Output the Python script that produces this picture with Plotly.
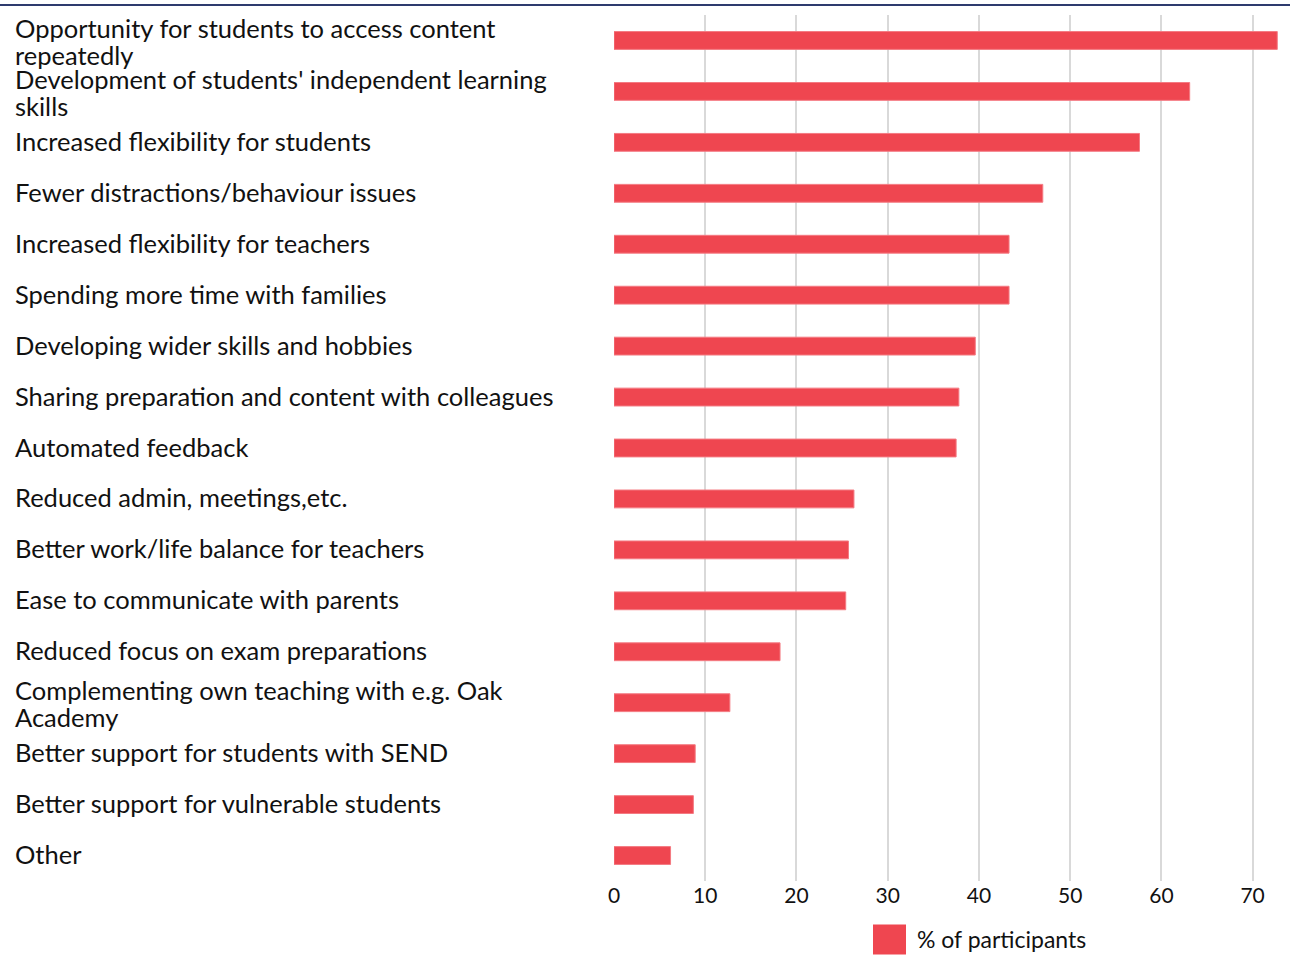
import plotly.graph_objects as go

# Survey responses: perceived benefits of remote teaching
categories = [
    "Opportunity for students to access content<br>repeatedly",
    "Development of students' independent learning<br>skills",
    "Increased flexibility for students",
    "Fewer distractions/behaviour issues",
    "Increased flexibility for teachers",
    "Spending more time with families",
    "Developing wider skills and hobbies",
    "Sharing preparation and content with colleagues",
    "Automated feedback",
    "Reduced admin, meetings,etc.",
    "Better work/life balance for teachers",
    "Ease to communicate with parents",
    "Reduced focus on exam preparations",
    "Complementing own teaching with e.g. Oak<br>Academy",
    "Better support for students with SEND",
    "Better support for vulnerable students",
    "Other",
]
values = [72.7, 63.1, 57.6, 47.0, 43.3, 43.3, 39.6, 37.8, 37.5,
          26.3, 25.7, 25.4, 18.2, 12.7, 8.9, 8.7, 6.2]
tick_values = [0, 10, 20, 30, 40, 50, 60, 70]
series_name = "% of participants"

BAR_COLOR = "#ef4650"
FONT = "Lato"
TEXT_COLOR = "#111111"

W, H = 1290, 956
L, R, T, B = 614, 10, 14.5, 74.5
pw, ph = W - L - R, H - T - B
n = len(categories)
row_px = ph / n


def px_x(p):
    return (p - L) / pw


def px_y(p):
    return (H - B - p) / ph


fig = go.Figure()
fig.add_trace(go.Bar(
    y=list(range(n)),
    x=values,
    orientation="h",
    name=series_name,
    marker=dict(color=BAR_COLOR, line=dict(color="#f47a82", width=1)),
    width=0.35,
    showlegend=False,
    hovertext=[c.replace("<br>", " ") for c in categories],
))

# left-aligned category labels; wrapped labels use a tight 27 px line step
single_shift = -1.5 / row_px
wrap_offsets = (-12.5 / row_px, 14.5 / row_px)
for i, cat in enumerate(categories):
    lines = cat.split("<br>")
    offsets = [single_shift] if len(lines) == 1 else wrap_offsets
    for line, off in zip(lines, offsets):
        fig.add_annotation(
            x=px_x(13), xref="paper", xanchor="left",
            y=i + off, yref="y", yanchor="middle",
            text=line, showarrow=False, align="left",
            font=dict(family=FONT, size=25.5, color=TEXT_COLOR),
        )

# thin rule across the top
fig.add_shape(type="line", xref="paper", yref="paper",
              x0=px_x(0), x1=px_x(W), y0=px_y(4.5), y1=px_y(4.5),
              line=dict(color="#2e3b6e", width=2))

# legend swatch and label
fig.add_shape(type="rect", xref="paper", yref="paper",
              x0=px_x(873), x1=px_x(906), y0=px_y(955), y1=px_y(925),
              fillcolor=BAR_COLOR, line=dict(width=0))
fig.add_annotation(x=px_x(915), xref="paper", xanchor="left",
                   y=px_y(940), yref="paper", yanchor="middle",
                   text=series_name, showarrow=False,
                   font=dict(family=FONT, size=23, color=TEXT_COLOR))

fig.update_layout(
    width=W, height=H,
    margin=dict(l=L, r=R, t=T, b=B, pad=0),
    paper_bgcolor="white", plot_bgcolor="white",
    font=dict(family=FONT, color=TEXT_COLOR),
)
fig.update_xaxes(
    range=[0, 73], tickvals=tick_values,
    showgrid=True, gridcolor="#d9d9d9", gridwidth=2,
    zeroline=False, showline=False,
    tickfont=dict(family=FONT, size=21, color=TEXT_COLOR),
    ticks="", ticklabelstandoff=0,
)
fig.update_yaxes(
    range=[n - 0.5, -0.5], showticklabels=False, showgrid=False,
    zeroline=False, showline=False, ticks="",
)

fig.write_html("out.html")
